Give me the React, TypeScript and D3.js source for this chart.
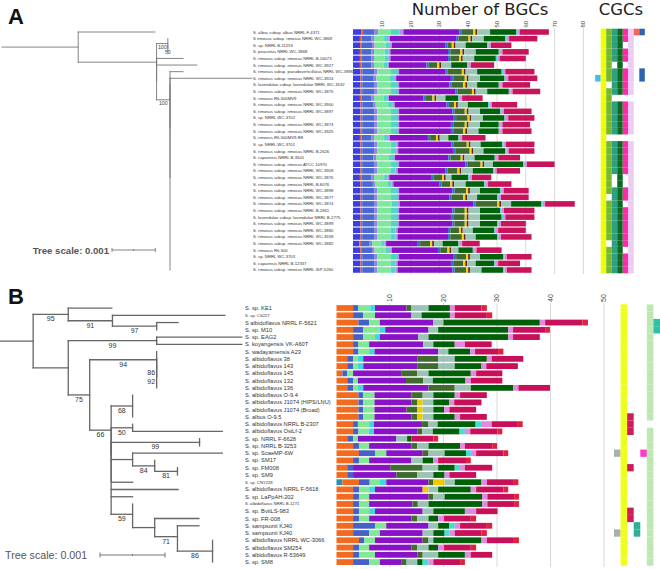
import React from 'react';
import * as d3 from 'd3';

// ---------------- Panel A data ----------------
const namesA = [
  'S. albus subsp. albus NRRL F-4371',
  'S rimosus subsp. rimosus NRRL WC-3869',
  'S. sp. NRRL B-11253',
  'S. peucetius NRRL WC-3868',
  'S. rimosus subsp. rimosus NRRL B-16073',
  'S. rimosus subsp. rimosus NRRL WC-3927',
  'S. rimosus subsp. pseudoverticillatus NRRL WC-3896',
  'S. rimosus subsp. rimosus NRRL WC-3924',
  'S. lavendulae subsp. lavendulae NRRL WC-3532',
  'S. rimosus subsp. rimosus NRRL WC-3875',
  'S. rimosus R6-500MV9',
  'S. rimosus subsp. rimosus NRRL WC-3900',
  'S. rimosus subsp. rimosus NRRL WC-3897',
  'S. sp. NRRL WC-3702',
  'S. rimosus subsp. rimosus NRRL WC-3873',
  'S. rimosus subsp. rimosus NRRL WC-3925',
  'S. rimosus R6-500MV9-R8',
  'S. sp. NRRL WC-3701',
  'S. rimosus subsp. rimosus NRRL B-2626',
  'S. capuensis NRRL B-3501',
  'S. rimosus subsp. rimosus ATCC 10970',
  'S. rimosus subsp. rimosus NRRL WC-3909',
  'S. rimosus subsp. rimosus NRRL WC-3876',
  'S. rimosus subsp. rimosus NRRL B-8076',
  'S. rimosus subsp. rimosus NRRL WC-3898',
  'S. rimosus subsp. rimosus NRRL WC-3877',
  'S. rimosus subsp. rimosus NRRL WC-3874',
  'S. rimosus subsp. rimosus NRRL B-2661',
  'S. lavendulae subsp. lavendulae NRRL B-2775',
  'S. rimosus subsp. rimosus NRRL WC-3899',
  'S. rimosus subsp. rimosus NRRL WC-3880',
  'S. rimosus subsp. rimosus NRRL WC-3558',
  'S. rimosus subsp. rimosus NRRL WC-3882',
  'S. rimosus R6-500',
  'S. sp. NRRL WC-3703',
  'S. capuensis NRRL B-12337',
  'S. rimosus subsp. rimosus NRRL ISP-5260',
];

const aBlue = [2.9,2.4,2.5,2.4,2.4,2.4,2.6,2.6,2.6,2.6,2.4,2.6,2.6,2.6,2.6,2.6,2.4,2.6,2.6,2.6,2.6,2.6,2.4,2.6,2.6,2.6,2.6,2.6,2.6,2.6,2.6,2.6,2.2,2.5,2.6,2.6,2.6];
const aOrange = [0.6,0.6,0.6,0.6,0.6,0.6,0.6,0.6,0.6,0.6,0.6,0.6,0.6,0.6,0.6,0.6,0.6,0.6,0.6,0.6,0.6,0.6,0.6,0.6,0.6,0.6,0.6,0.6,0.6,0.6,0.6,0.6,0.6,0.6,0.6,0.6,0.6];
const aSteel = [4.0,3.4,3.5,3.4,3.4,3.4,4.3,4.0,4.3,4.3,3.4,3.8,4.3,4.3,4.3,4.3,3.4,4.3,4.3,3.9,4.3,4.3,3.4,3.7,4.3,4.3,4.3,4.3,4.3,4.3,4.3,4.3,3.0,3.5,4.3,4.3,4.3];
const aLav = [1.2,0.9,0.9,0.9,0.9,0.9,0.9,0.9,0.9,0.9,0.9,0.9,0.9,0.9,0.9,0.9,0.9,0.9,0.9,0.9,0.9,0.9,0.9,0.9,0.9,0.9,0.9,0.9,0.9,0.9,0.9,0.9,0.8,0.9,0.9,0.9,0.9];
const aLgreen = [4.5,3.5,3.9,3.7,3.7,3.4,4.8,4.5,4.8,4.8,3.4,4.3,4.8,4.8,4.8,4.8,3.5,4.7,4.7,4.3,4.8,4.6,3.5,4.1,4.8,4.8,5.0,4.8,4.8,4.8,4.6,4.6,3.4,3.9,4.8,4.6,4.6];
const aTurq = [2.9,1.4,1.5,1.4,1.4,1.2,2.1,1.7,2.1,2.1,1.2,1.6,2.1,2.1,2.1,2.1,1.4,1.9,1.9,1.6,2.1,1.8,1.2,1.5,2.1,2.1,2.2,2.1,2.1,2.1,1.8,1.8,1.0,1.5,2.1,1.8,1.8];
const aLav2 = [1.4,0.6,0.6,0.6,0.6,0.6,0.7,0.7,0.7,0.7,0.6,0.7,0.7,0.7,0.7,0.7,0.6,0.7,0.7,0.7,0.7,0.7,0.6,0.6,0.7,0.7,0.7,0.7,0.7,0.7,0.7,0.7,0.5,0.6,0.7,0.7,0.7];
const aPurple = [19.5,23,18.5,20,20,13,16,19,17.5,19.5,12,18,18.5,19,18,18,13.2,18.5,19,18.5,23,16.5,14.5,16,18.5,17.5,25.5,18.5,18,18.5,17.5,17.5,11,16,19,18.5,19];
const aBlue2 = [0.8,0.8,0.8,0.8,0.8,0.8,0.8,0.8,0.8,0.8,0.8,0.8,0.8,0.8,0.8,0.8,0.8,0.8,0.8,0.8,0.8,0.8,0.8,0.8,0.8,0.8,0.8,0.8,0.8,0.8,0.8,0.8,0.8,0.8,0.8,0.8,0.8];
const aOlive = [4,3.5,1.5,3.5,3,3,5,4,4,5,2.3,1.8,3.5,4,4,3.5,2,4.5,5,3.5,4.5,3.5,3,3,4,4,7.5,3.5,4,3.5,3,4,3.5,2.5,3.5,3.5,4];
const aYellow = [0.7,0.7,0.7,0.7,0.7,0.7,0.7,0.7,0.7,0.7,0.7,0.7,0.7,0.7,0.7,0.7,0.7,0.7,0.7,0.7,0.7,0.7,0.7,0.7,0.7,0.7,0.7,0.7,0.7,0.7,0.7,0.7,0.7,0.7,0.7,0.7,0.7];
const aBrown = [0.6,0.6,0.6,0.6,0.6,0.6,0.6,0.6,0.6,0.6,0.6,0.6,0.6,0.6,0.6,0.6,0.6,0.6,0.6,0.6,0.6,0.6,0.6,0.6,0.6,0.6,0.6,0.6,0.6,0.6,0.6,0.6,0.6,0.6,0.6,0.6,0.6];
const aGray = [4.5,4,3.5,4,4,3.5,4,4,3.5,4,3.2,3.5,4,4,4,4,3,3.5,3.5,3.5,3,4,2,4,3.5,3.5,3.5,4,4,4,3.5,3.5,3,2.5,3.5,3,4];
const aDgreen = [9,7.5,7.5,8,7.5,5.5,8.5,8.5,7.5,7.5,4.5,7,7,7.5,6.5,7,3.5,7.5,7.5,7,10.5,7,5.8,6.5,7,7,10.5,7,7.5,6,7.5,7.5,5.5,5,8,6.5,7.5];
const aCyan = [0.5,0.5,0.5,0.5,0.5,0.5,0.5,0.5,0.5,0.5,0.5,0.5,0.5,0.5,0.5,0.5,0.5,0.5,0.5,0.5,0.5,0.5,0.5,0.5,0.5,0.5,0.5,0.5,0.5,0.5,0.5,0.5,0.5,0.5,0.5,0.5,0.5];
const aLilac = [0.8,0.8,0.8,0.8,0.8,0.8,0.8,0.8,0.8,0.8,0.8,0.8,0.8,0.8,0.8,0.8,0.8,0.8,0.8,0.8,0.8,0.8,0.8,0.8,0.8,0.8,0.8,0.8,0.8,0.8,0.8,0.8,0.8,0.8,0.8,0.8,0.8];
const aCrimson = [10.1,9.8,7.1,9.1,9.1,8.1,10.1,10.1,9.6,9.6,7.1,8.8,9.6,9.1,9.6,10.1,8.1,9.9,8.9,7.5,9.6,8.1,6.7,8.1,8.6,9.6,10.3,10.6,10.1,8.6,9.6,10.6,6.1,8.7,8.6,7.6,8.6];

const ticksA = [10, 20, 30, 40, 50, 60, 70, 80];

// CGC presence per row (panel A)
const cgcA_cyan      = '0000000' + '1' + '00000000000000000000000000000';
const cgcA_yellow    = '1111111111' + '1111111111' + '1111111111' + '1111111';
const cgcA_green     = '1111111101111111011111111011111101111';
const cgcA_teal      = '1111101111011111011111001111111111111';
const cgcA_dgreen    = '1111111111011111011111111111111111111';
const cgcA_pink      = '1101101111011111011111001101111110111';
const cgcA_lilac     = '1111111111011111011111111111111111111';
const cgcA_orangered = '1' + '000000000000000000000000000000000000';
const cgcA_blue      = '1' + '00000' + '11' + '00000000000000000000000000000';

// ---------------- Panel B data ----------------
const namesB = [
  'S. sp. KE1', 'S. sp. CS227', 'S albidoflavus NRRL F-5621', 'S. sp. M10', 'S. sp. EAG2',
  'S. koyangensis VK-A60T', 'S. wadayamensis A23', 'S. albidoflavus 38', 'S. albidoflavus 143',
  'S. albidoflavus 145', 'S. albidoflavus 132', 'S. albidoflavus 136', 'S. albidoflavus O-9.4',
  'S. albidoflavus J1074 (HIPS/LNU)', 'S. albidoflavus J1074 (Broad)', 'S. albus O-9.5',
  'S. albidoflavus NRRL B-2307', 'S. albidoflavus OsiLf-2', 'S. sp. NRRL F-6628', 'S. sp. NRRL B-3253',
  'S. sp. ScaeMP-6W', 'S. sp. SM17', 'S. sp. FM008', 'S. sp. SM9', 'S. sp. CNY228',
  'S. albidoflavus NRRL F-5618', 'S. sp. LaPpAH-202', 'S. albidoflavus NRRL B-1271', 'S. sp. BvitLS-983',
  'S. sp. FR-008', 'S. sampsonii KJ40', 'S. sampsonii KJ40', 'S. albidoflavus NRRL WC-3066',
  'S. albidoflavus SM254', 'S. albidoflavus R-53649', 'S. sp. SM8',
];
const smallLabelsB = [1, 24, 27];

const bTeal = [0,0,0,0,0,0,0,0,0,0,0,0,0,0,0,0,0,0,0,0,0,0,0,0,1.1,0,0,0,0,0,0,0,0,0,0,0];
const bOrange = [3.1,3.1,4.1,3.1,3.1,3.1,3.1,2.0,2.0,1.1,2.0,2.0,4.1,4.1,4.1,4.1,3.1,3.1,2.0,3.1,4.2,3.1,2.0,2.0,3.1,3.1,3.1,3.1,3.1,3.1,3.1,3.1,4.2,3.1,3.1,3.1];
const bSteel = [1.0,1.9,2.0,1.9,1.9,1.0,1.0,1.1,1.1,0.9,1.1,1.1,0.9,0.9,0.9,0.9,0.9,1.0,1.1,1.1,3.0,1.1,1.1,1.1,2.0,1.1,1.1,1.1,1.1,1.1,4.1,3.0,1.0,1.1,1.1,3.0];
const bLgreen = [2.2,2.2,2.0,3.1,2.2,2.0,2.0,0.9,0.9,1.1,0.9,0.9,2.1,2.1,2.1,2.1,2.1,1.9,0.9,1.9,2.1,1.9,0,0,1.9,1.9,1.9,1.9,1.9,1.9,2.1,2.0,2.0,1.9,3.0,2.0];
const bTurq = [0.9,0,0,1.0,0.9,0,1.0,1.0,1.0,0,0,1.0,0,0,0,0,0.9,1.0,0,0,0,0,0,0,1.2,1.1,0,0,1.1,0,0,0,0,0,0,0];
const bPurple = [5.9,6.8,10.0,8.1,7.2,10.1,11.9,10.1,10.1,9.1,9.0,12.2,6.9,6.9,6.0,6.9,9.0,8.1,7.2,7.9,6.8,7.9,7.0,8.1,7.9,8.9,11.1,8.1,8.9,7.9,7.9,8.0,8.9,7.9,7.9,4.1];
const bOlive = [0.9,0,0,0,0,0,0,3.9,3.9,2.9,3.2,4.9,2.1,1.1,2.0,1.1,1.1,0.9,0,1.1,1.1,0,6.0,3.9,0.9,0,0.9,1.0,0,1.1,0,0,1.1,1.1,1.0,0.9];
const bYellow = [0,0,0,0,0,0,0,0,0,0,0,0,0,1.0,1.0,1.0,0,0,0,0,0,0,0,0,2.1,1.1,0,0,0,0,0,0,0,0,0,0];
const bGray = [3.2,1.9,1.9,1.8,1.9,1.9,1.9,3.1,3.1,2.1,1.8,3.0,2.0,2.0,2.0,2.0,1.8,2.0,2.0,2.1,3.0,2.1,2.9,3.0,1.9,1.8,2.1,2.0,2.0,2.1,1.8,2.0,0.9,2.1,2.9,2.0];
const bDgreen = [4.0,5.3,18.0,13.1,14.9,4.0,4.1,6.0,5.0,7.9,6.1,7.9,4.0,3.0,2.0,4.0,7.1,5.0,0.8,5.9,4.0,2.0,3.1,2.1,5.0,6.1,7.0,10.0,5.9,1.8,2.1,2.1,9.0,1.8,5.0,1.0];
const bCyan = [0,0,0,0,0,0,0,0,0,0,0,0,0,0,0,0,1.0,1.0,0,0,0.9,0,1.0,0,0,0,0,0,0,0,1.0,0.9,0,0,0,1.1];
const bLilac = [0.9,0.9,1.0,0.9,0.9,1.9,0.9,0.9,0.9,1.0,1.0,1.0,1.0,0.9,1.0,1.0,2.0,1.0,0,0.9,1.0,0.9,0.9,0.9,1.0,1.0,1.0,1.0,2.1,1.1,1.0,1.0,1.0,1.1,1.1,0.9];
const bCrimson = [5.0,6.0,7.0,6.0,5.0,5.0,4.3,5.9,5.9,4.9,5.9,5.9,5.0,5.1,5.0,5.0,4.9,5.1,4.1,5.1,5.1,5.2,5.1,5.0,4.9,5.1,5.0,5.0,4.0,5.0,5.0,5.0,4.9,5.0,4.0,5.0];
const bRed = [1.0,1.0,1.0,0.9,0,0,1.0,0,0,0,0,0,0,0,0,0,0.9,0.9,0.9,0.9,0.9,0.9,0,0,1.0,0.9,0.9,0.9,0,1.0,1.0,1.0,1.1,1.0,0,0.9];

const ticksB = [10, 20, 30, 40, 50];

const cgcB_gray    = '00000000000000000000' + '1' + '0000000000' + '1' + '0000';
const cgcB_yellow  = '1111111111' + '1111111111' + '1111111111' + '111111';
const cgcB_crimson = '000000000000000' + '111' + '0000' + '1' + '00000' + '11' + '000000';
const cgcB_teal    = '000000000000000000000000000000' + '11' + '0000';
const cgcB_magenta = '00000000000000000000' + '1' + '000000000000000';
const cgcB_lgreen  = '1111111111111111' + '0' + '1111111111111111111';
const cgcB_teal2   = '0011' + '00000000000000000000000000000000';

// ---------------- Trees (branch lengths in units of 0.001) ----------------
type TN = { len: number; leaf?: number; sup?: string; children?: TN[] };
const L = (leaf: number, len = 0): TN => ({ leaf, len });

const treeA: TN = { len: 1.76, children: [
  L(0, 1.77),
  { len: 1.81, children: [
    { len: 0.26, sup: '100', children: [L(1), { len: 0, sup: '50', children: [L(2), L(3)] }] },
    { len: 0, children: [
      { len: 0, children: [L(4, 0.61), L(5, 0.93)] },
      { len: 0.31, sup: '100', children: [
        L(6, 0.3),
        { len: 0, children: [L(7, 1.89), { len: 0, children: d3.range(8, 37).map((i) => L(i)) }] },
      ] },
    ] },
  ] },
] };

const treeB: TN = { len: 0.51, children: [
  { len: 0.54, sup: '95', children: [
    L(0, 0.67),
    { len: 0.68, sup: '91', children: [L(1, 1.73), { len: 0.68, sup: '97', children: [L(2, 0.33), L(3)] }] },
  ] },
  { len: 0.54, children: [
    { len: 1.36, sup: '99', children: [L(4, 1.31), L(5, 1.31)] },
    { len: 0.33, sup: '75', children: [
      { len: 1.03, sup: '94', children: [L(6), { len: 0, sup: '86', children: [L(7), { len: 0, sup: '92', children: [L(8), L(9), L(10), L(11)] }] }] },
      { len: 0.33, sup: '66', children: [
        { len: 0.33, sup: '68', children: [L(12), L(13), L(14), L(15)] },
        { len: 0, children: [
          { len: 0.33, sup: '50', children: [L(16), L(17, 1.38)] },
          { len: 0, children: [
            { len: 1.36, sup: '99', children: [L(18), L(19)] },
            { len: 0.33, children: [L(20, 1.38), { len: 0.34, sup: '84', children: [L(21), { len: 0.35, sup: '81', children: [L(22), L(23)] }] }] },
            L(24, 0.33),
            L(25, 1.03),
            L(26, 0.33),
            { len: 0.33, sup: '59', children: [
              L(27), L(28),
              { len: 0.34, children: [
                L(29, 0.68),
                { len: 0.35, sup: '71', children: [L(30, 0.33), L(31), { len: 0.54, sup: '86', children: [L(32), L(33), L(34), L(35)] }] },
              ] },
            ] },
          ] },
        ] },
      ] },
    ] },
  ] },
] };

// ---------------- styling ----------------
const keysA = ['blue','orange','steel','lav','lgreen','turq','lav2','purple','blue2','olive','yellow','brown','gray','dgreen','cyan','lilac','crimson'];
const seriesA: Record<string, number[]> = { blue: aBlue, orange: aOrange, steel: aSteel, lav: aLav, lgreen: aLgreen, turq: aTurq, lav2: aLav2, purple: aPurple, blue2: aBlue2, olive: aOlive, yellow: aYellow, brown: aBrown, gray: aGray, dgreen: aDgreen, cyan: aCyan, lilac: aLilac, crimson: aCrimson };
const colA: Record<string, string> = { blue: '#3b3fe0', orange: '#ee5a24', steel: '#4a68d4', lav: '#9a7ee6', lgreen: '#7ee89c', turq: '#52d6c4', lav2: '#ad8fe8', purple: '#8811c6', blue2: '#2f6fd8', olive: '#3f6b2e', yellow: '#f2d400', brown: '#6b1f1f', gray: '#9cc7b6', dgreen: '#00620a', cyan: '#44dcd2', lilac: '#de8ae0', crimson: '#c8145c' };

const keysB = ['teal','orange','steel','lgreen','turq','purple','olive','yellow','gray','dgreen','cyan','lilac','crimson','red'];
const seriesB: Record<string, number[]> = { teal: bTeal, orange: bOrange, steel: bSteel, lgreen: bLgreen, turq: bTurq, purple: bPurple, olive: bOlive, yellow: bYellow, gray: bGray, dgreen: bDgreen, cyan: bCyan, lilac: bLilac, crimson: bCrimson, red: bRed };
const colB: Record<string, string> = { teal: '#2a8fb5', orange: '#f26a1e', steel: '#4661c6', lgreen: '#82e896', turq: '#40d6e0', purple: '#8a12c6', olive: '#3f6b2e', yellow: '#eecb00', gray: '#9cc4b6', dgreen: '#006008', cyan: '#40e0d0', lilac: '#e08ae2', crimson: '#c8105a', red: '#e0203e' };

const cgcKeysA = ['cyan','yellow','green','teal','dgreen','pink','lilac','orangered','blue'];
const cgcA: Record<string, string> = { cyan: cgcA_cyan, yellow: cgcA_yellow, green: cgcA_green, teal: cgcA_teal, dgreen: cgcA_dgreen, pink: cgcA_pink, lilac: cgcA_lilac, orangered: cgcA_orangered, blue: cgcA_blue };
const cgcColA: Record<string, string> = { cyan: '#3fbef0', yellow: '#eeff00', green: '#76b82a', teal: '#2fa07e', dgreen: '#0b6a22', pink: '#ff2aa6', lilac: '#ecccf2', orangered: '#f06a52', blue: '#2b63b0' };

const cgcKeysB = ['gray','yellow','crimson','teal','magenta','lgreen','teal2'];
const cgcB: Record<string, string> = { gray: cgcB_gray, yellow: cgcB_yellow, crimson: cgcB_crimson, teal: cgcB_teal, magenta: cgcB_magenta, lgreen: cgcB_lgreen, teal2: cgcB_teal2 };
const cgcColB: Record<string, string> = { gray: '#a6b0ae', yellow: '#eeff1a', crimson: '#d01c5c', teal: '#2fae98', magenta: '#ff3cc4', lgreen: '#bde8b4', teal2: '#2fc0a8' };

const SANS = 'Liberation Sans, Arial, sans-serif';

function layoutTree(data: TN, x0: number, px: number, yLeaf: (i: number) => number) {
  const root: any = d3.hierarchy<TN>(data, (d) => d.children);
  const sx = d3.scaleLinear().domain([0, 1]).range([x0, x0 + px]);
  root.eachBefore((n: any) => { n.cum = (n.parent ? n.parent.cum : 0) + n.data.len; });
  root.eachAfter((n: any) => { n.ny = n.children ? d3.mean(n.children, (c: any) => c.ny) : yLeaf(n.data.leaf); });
  const segs: number[][] = [];
  const labels: { x: number; y: number; t: string; zero: boolean }[] = [];
  root.each((n: any) => {
    const xs = sx(n.parent ? n.parent.cum : 0);
    const xe = sx(n.cum);
    if (xe > xs) segs.push([xs, n.ny, xe, n.ny]);
    if (n.children) {
      const ys = n.children.map((c: any) => c.ny);
      segs.push([xe, d3.min(ys) as number, xe, d3.max(ys) as number]);
    }
    if (n.data.sup) labels.push({ x: (xs + xe) / 2, y: n.ny, t: n.data.sup, zero: xe - xs < 3 });
  });
  return { segs, labels };
}

function Bars({ names, keys, series, colors, x, y }: any) {
  const table = names.map((name: string, i: number) => {
    const r: any = { idx: i };
    keys.forEach((k: string) => (r[k] = series[k][i]));
    return r;
  });
  const stacked = d3.stack<any>().keys(keys)(table);
  return (
    <g>
      {stacked.map((layer: any) => (
        <g key={layer.key} fill={colors[layer.key]}>
          {layer.map((d: any, i: number) => (d[1] - d[0] > 0 ? (
            <rect key={i} x={x(d[0])} y={y(i)} width={Math.max(0, x(d[1]) - x(d[0]))} height={y.bandwidth()} />
          ) : null))}
        </g>
      ))}
    </g>
  );
}

function Cgc({ keys, data, colors, xb, y, n }: any) {
  const cells: any[] = [];
  keys.forEach((k: string) => {
    data[k].split('').map(Number).forEach((v: number, i: number) => {
      if (v && i < n) cells.push(<rect key={k + i} x={xb(k)} y={y(i) - (y.step() - y.bandwidth()) / 2} width={xb.bandwidth()} height={y.step()} fill={colors[k]} />);
    });
  });
  return <g>{cells}</g>;
}

export default function App() {
  const W = 660, H = 569;

  // Panel A scales
  const xA = d3.scaleLinear().domain([0, 80]).range([353, 583.4]);
  const yA = d3.scaleBand<number>().domain(d3.range(namesA.length)).range([28.7, 273.3]).paddingInner(0.16).paddingOuter(0.08);
  const cyA = (i: number) => (yA(i) as number) + yA.bandwidth() / 2;
  const cgcXA = d3.scaleBand<string>().domain(cgcKeysA).range([595.2, 644.8]);

  // Panel B scales
  const xB = d3.scaleLinear().domain([0, 50]).range([336.5, 604]);
  const yB = d3.scaleBand<number>().domain(d3.range(namesB.length)).range([304.4, 565.7]).paddingInner(0.2).paddingOuter(0.1);
  const cyB = (i: number) => (yB(i) as number) + yB.bandwidth() / 2;
  const cgcXB = d3.scaleBand<string>().domain(cgcKeysB).range([614, 660]);

  const tA = layoutTree(treeA, 2, 43.3, cyA);
  const tB = layoutTree(treeB, 0, 65, cyB);

  const scaleBarA = d3.scaleLinear().domain([0, 0.001]).range([112, 155.3]);
  const scaleBarB = d3.scaleLinear().domain([0, 0.001]).range([100, 165]);

  return (
    <svg width={W} height={H} viewBox={`0 0 ${W} ${H}`} style={{ position: 'absolute', left: 0, top: 0, background: '#fff' }}>
      <rect width={W} height={H} fill="#fff" />
      {/* ---------- Panel A ---------- */}
      <text x={8} y={24} fontFamily={SANS} fontWeight="bold" fontSize={22} fill="#111">A</text>
      <text x={480} y={15} textAnchor="middle" fontFamily="DejaVu Sans, sans-serif" fontSize={16.5} fill="#222">Number of BGCs</text>
      <text x={621} y={15} textAnchor="middle" fontFamily="DejaVu Sans, sans-serif" fontSize={16.5} fill="#222">CGCs</text>
      {ticksA.map((t) => (
        <g key={t}>
          <line x1={xA(t)} x2={xA(t)} y1={28} y2={274} stroke="#d4d4d4" strokeWidth={0.9} />
          <text transform={`translate(${xA(t) + 2},${27.5}) rotate(-90)`} fontFamily={SANS} fontSize={6} fill="#444">{t}</text>
        </g>
      ))}
      <Bars names={namesA} keys={keysA} series={seriesA} colors={colA} x={xA} y={yA} />
      <Cgc keys={cgcKeysA} data={cgcA} colors={cgcColA} xb={cgcXA} y={yA} n={namesA.length} />
      {namesA.map((n, i) => (
        <text key={i} x={253} y={cyA(i) + 1.5} fontFamily={SANS} fontSize={4.2} fill="#333">{n}</text>
      ))}
      <g stroke="#777" strokeWidth={0.9} strokeLinecap="square">
        {tA.segs.map((s, i) => <line key={i} x1={s[0]} y1={s[1]} x2={s[2]} y2={s[3]} />)}
      </g>
      {tA.labels.map((l, i) => (
        <text key={i} x={l.x} y={l.y + 5} textAnchor="middle" fontFamily={SANS} fontSize={5.2} fill="#444">{l.t}</text>
      ))}
      <text x={109} y={253.5} textAnchor="end" fontFamily={SANS} fontWeight="bold" fontSize={9.6} fill="#555">Tree scale: 0.001</text>
      <g stroke="#666" strokeWidth={0.8}>
        <line x1={scaleBarA(0)} x2={scaleBarA(0.001)} y1={250} y2={250} />
        <line x1={scaleBarA(0)} x2={scaleBarA(0)} y1={248} y2={252} />
        <line x1={scaleBarA(0.001)} x2={scaleBarA(0.001)} y1={248} y2={252} />
        <line x1={scaleBarA(0.0005)} x2={scaleBarA(0.0005)} y1={249} y2={251} />
      </g>

      {/* ---------- Panel B ---------- */}
      <text x={8} y={304} fontFamily={SANS} fontWeight="bold" fontSize={22} fill="#111">B</text>
      {ticksB.map((t) => (
        <g key={t}>
          <line x1={xB(t)} x2={xB(t)} y1={303} y2={567} stroke="#d4d4d4" strokeWidth={0.9} />
          <text transform={`translate(${xB(t) + 2.3},${302}) rotate(-90)`} fontFamily={SANS} fontSize={7} fill="#444">{t}</text>
        </g>
      ))}
      <Bars names={namesB} keys={keysB} series={seriesB} colors={colB} x={xB} y={yB} />
      <Cgc keys={cgcKeysB} data={cgcB} colors={cgcColB} xb={cgcXB} y={yB} n={namesB.length} />
      {namesB.map((n, i) => (
        <text key={i} x={245} y={cyB(i) + (smallLabelsB.includes(i) ? 1.4 : 2)} fontFamily={SANS} fontSize={smallLabelsB.includes(i) ? 4.2 : 5.7} fill="#333">{n}</text>
      ))}
      <g stroke="#666" strokeWidth={1.3} strokeLinecap="square">
        {tB.segs.map((s, i) => <line key={i} x1={s[0]} y1={s[1]} x2={s[2]} y2={s[3]} />)}
      </g>
      {tB.labels.map((l, i) => (
        <text key={i} x={l.zero ? l.x - 1.5 : l.x} y={l.y + 7} textAnchor={l.zero ? 'end' : 'middle'} fontFamily={SANS} fontSize={7} fill="#333">{l.t}</text>
      ))}
      <text x={5} y={559} fontFamily={SANS} fontSize={10.7} fill="#555">Tree scale: 0.001</text>
      <g stroke="#777" strokeWidth={1}>
        <line x1={scaleBarB(0)} x2={scaleBarB(0.001)} y1={555} y2={555} />
        <line x1={scaleBarB(0)} x2={scaleBarB(0)} y1={552.5} y2={557.5} />
        <line x1={scaleBarB(0.001)} x2={scaleBarB(0.001)} y1={552.5} y2={557.5} />
        <line x1={scaleBarB(0.0005)} x2={scaleBarB(0.0005)} y1={554} y2={556} />
      </g>
    </svg>
  );
}
